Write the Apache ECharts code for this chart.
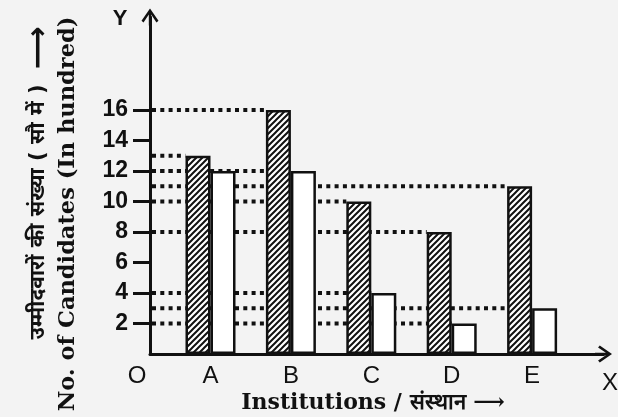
<!DOCTYPE html>
<html>
<head>
<meta charset="utf-8">
<script src="https://cdn.jsdelivr.net/npm/echarts@6/dist/echarts.min.js"></script>
<style>
  html, body { margin: 0; padding: 0; background: #f3f3f3; }
  #chart { width: 618px; height: 417px; }
</style>
</head>
<body>
<div id="chart"></div>
<script>
// 数据
const institutions = ['A', 'B', 'C', 'D', 'E']
const positions = [1, 2, 3, 4, 5]
const hatchedValues = [13, 16, 10, 8, 11]
const plainValues = [12, 12, 4, 2, 3]
const yTicks = [2, 4, 6, 8, 10, 12, 14, 16]

const INK = '#111'
const BAR_W = 25
const X_MIN = 0.2475
const X_MAX = 5.888

// 斜线填充
const makeHatch = () => {
  const c = document.createElement('canvas')
  const s = 6
  c.width = s
  c.height = s
  const ctx = c.getContext('2d')
  ctx.fillStyle = '#fff'
  ctx.fillRect(0, 0, s, s)
  ctx.strokeStyle = INK
  ctx.lineWidth = 2
  ctx.beginPath()
  ctx.moveTo(-1, s + 1); ctx.lineTo(s + 1, -1)
  ctx.moveTo(-2, 2); ctx.lineTo(2, -2)
  ctx.moveTo(s - 2, s + 2); ctx.lineTo(s + 2, s - 2)
  ctx.stroke()
  return c
}

const arrowPath = 'path://M50,0 L100,72 L88,82 L57,36 L57,100 L43,100 L43,36 L12,82 L0,72 Z'

// 虚线参考线: 从 y 轴到每根柱子左上角
const guideData = []
positions.forEach((x, i) => {
  guideData.push([x, hatchedValues[i], 0])
  guideData.push([x, plainValues[i], 1])
})

const chart = echarts.init(document.getElementById('chart'))

const option = {
  backgroundColor: '#f3f3f3',
  animation: false,
  grid: { left: 150, right: 14.5, top: 17, bottom: 63 },
  xAxis: {
    type: 'value',
    min: X_MIN,
    max: X_MAX,
    splitLine: { show: false },
    axisLine: {
      lineStyle: { color: INK, width: 3 },
      symbol: ['none', arrowPath],
      symbolSize: [18, 17]
    },
    axisTick: { show: false },
    axisLabel: {
      customValues: positions,
      formatter: (v) => institutions[positions.indexOf(v)] || '',
      color: INK,
      fontFamily: 'Liberation Sans, Arial, sans-serif',
      fontSize: 24,
      margin: 10
    }
  },
  yAxis: {
    type: 'value',
    min: 0,
    max: 22.1,
    splitLine: { show: false },
    axisLine: {
      lineStyle: { color: INK, width: 3 },
      symbol: ['none', arrowPath],
      symbolSize: [22, 17]
    },
    axisTick: {
      customValues: yTicks,
      length: 17,
      lineStyle: { color: INK, width: 3 }
    },
    axisLabel: {
      customValues: yTicks,
      color: INK,
      fontFamily: 'Liberation Sans, Arial, sans-serif',
      fontWeight: 'bold',
      fontSize: 23,
      margin: 22
    }
  },
  series: [
    {
      name: 'guides',
      type: 'custom',
      z: 1,
      silent: true,
      data: guideData,
      encode: { x: 0, y: 1 },
      renderItem: (params, api) => {
        const end = api.coord([api.value(0), api.value(1)])
        const start = api.coord([X_MIN, api.value(1)])
        const endX = api.value(2) === 0 ? end[0] - BAR_W : end[0]
        return {
          type: 'line',
          shape: { x1: start[0] + 2, y1: end[1], x2: endX, y2: end[1] },
          style: { stroke: INK, lineWidth: 4, lineDash: [4, 4.3] }
        }
      }
    },
    {
      name: 'hatched',
      type: 'bar',
      z: 3,
      barWidth: BAR_W,
      barGap: '0%',
      data: positions.map((x, i) => [x, hatchedValues[i]]),
      itemStyle: {
        color: { image: makeHatch(), repeat: 'repeat' },
        borderColor: INK,
        borderWidth: 2.5
      }
    },
    {
      name: 'plain',
      type: 'bar',
      z: 3,
      barWidth: BAR_W,
      barGap: '0%',
      data: positions.map((x, i) => [x, plainValues[i]]),
      itemStyle: {
        color: '#fff',
        borderColor: INK,
        borderWidth: 2.5
      }
    }
  ],
  graphic: [
    {
      type: 'text', x: 120, y: 19,
      style: { text: 'Y', fill: INK, font: 'bold 22px Liberation Sans, Arial, sans-serif', textAlign: 'center', textVerticalAlign: 'middle' }
    },
    {
      type: 'text', x: 137, y: 376,
      style: { text: 'O', fill: INK, font: '24px Liberation Sans, Arial, sans-serif', textAlign: 'center', textVerticalAlign: 'middle' }
    },
    {
      type: 'text', x: 610, y: 383,
      style: { text: 'X', fill: INK, font: '24px Liberation Sans, Arial, sans-serif', textAlign: 'center', textVerticalAlign: 'middle' }
    },
    {
      type: 'text', x: 68, y: 214, rotation: Math.PI / 2,
      style: { text: 'No. of Candidates (In hundred)', fill: INK, font: 'bold 22.5px DejaVu Serif, serif', textAlign: 'center', textVerticalAlign: 'middle' }
    },
    {
      type: 'text', x: 39, y: 212, rotation: Math.PI / 2,
      style: { text: 'उम्मीदवारों की संख्या ( सौ में )', fill: INK, font: 'bold 21px DejaVu Sans, Noto Sans, sans-serif', textAlign: 'center', textVerticalAlign: 'middle' }
    },
    {
      type: 'text', x: 39, y: 48, rotation: Math.PI / 2,
      style: { text: '⟶', fill: INK, font: 'bold 30px DejaVu Sans, sans-serif', textAlign: 'center', textVerticalAlign: 'middle' }
    },
    {
      type: 'text', x: 373, y: 403,
      style: { text: 'Institutions / संस्थान ⟶', fill: INK, font: 'bold 22px DejaVu Serif, serif', textAlign: 'center', textVerticalAlign: 'middle' }
    }
  ]
}

chart.setOption(option)
</script>
</body>
</html>
